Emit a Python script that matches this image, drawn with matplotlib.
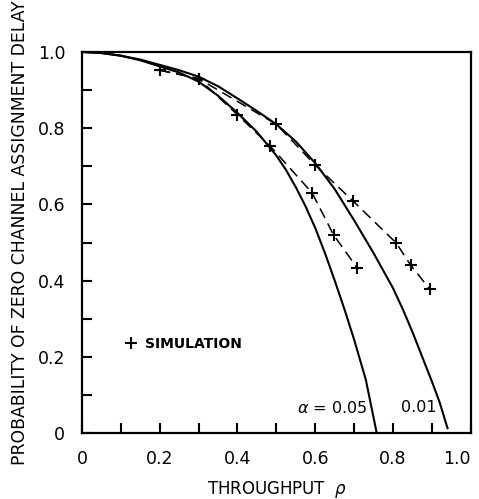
import matplotlib
matplotlib.use("Agg")
import matplotlib.pyplot as plt
import matplotlib.transforms as mtransforms
from matplotlib.lines import Line2D
from matplotlib.ticker import MultipleLocator

# analytic curves
rho_05 = [0, 0.05, 0.1, 0.15, 0.2, 0.25, 0.3, 0.35, 0.4, 0.45, 0.5, 0.525, 0.55, 0.575,
          0.6, 0.625, 0.65, 0.675, 0.7, 0.73, 0.758]
p_05 = [1.0, 0.997, 0.99, 0.978, 0.962, 0.946, 0.922, 0.885, 0.84, 0.79, 0.728, 0.69, 0.645, 0.595,
        0.538, 0.472, 0.40, 0.325, 0.245, 0.14, 0.0]

rho_01 = [0, 0.05, 0.1, 0.15, 0.2, 0.25, 0.3, 0.35, 0.4, 0.45, 0.5, 0.55, 0.6, 0.65, 0.7,
          0.75, 0.8, 0.825, 0.85, 0.875, 0.9, 0.92, 0.94]
p_01 = [1.0, 0.997, 0.99, 0.98, 0.966, 0.952, 0.935, 0.91, 0.878, 0.845, 0.81, 0.765, 0.708, 0.64, 0.558,
        0.472, 0.38, 0.325, 0.265, 0.2, 0.135, 0.08, 0.013]

# simulation points
sim_rho_05 = [0.2, 0.3, 0.4, 0.484, 0.592, 0.647, 0.708]
sim_p_05 = [0.952, 0.93, 0.835, 0.753, 0.63, 0.52, 0.433]

sim_rho_01 = [0.2, 0.3, 0.5, 0.6, 0.697, 0.808, 0.845, 0.894]
sim_p_01 = [0.952, 0.93, 0.81, 0.703, 0.609, 0.499, 0.441, 0.378]

ticks = [0, 0.2, 0.4, 0.6, 0.8, 1.0]
tick_labels = ["0", "0.2", "0.4", "0.6", "0.8", "1.0"]

fig = plt.figure(figsize=(4.79, 4.99), dpi=100)
ax = fig.add_axes([0.171, 0.132, 0.812, 0.764])

ax.plot(rho_05, p_05, color="black", lw=1.5)
ax.plot(rho_01, p_01, color="black", lw=1.5)
ax.plot(sim_rho_05, sim_p_05, color="black", lw=1.1, ls=(0, (7, 4)),
        marker="+", ms=8, mew=1.5)
ax.plot(sim_rho_01, sim_p_01, color="black", lw=1.1, ls=(0, (7, 4)),
        marker="+", ms=8, mew=1.5)

ax.text(0.553, 0.066, r"$\alpha$ = 0.05", fontsize=11.5, ha="left", va="center")
ax.text(0.82, 0.066, "0.01", fontsize=11.5, ha="left", va="center")

proxy = Line2D([], [], color="black", ls="none", marker="+", ms=8, mew=1.5)
ax.legend([proxy], ["SIMULATION"], loc="center left", bbox_to_anchor=(0.08, 0.233),
          frameon=False, handlelength=0.8, handletextpad=0.6,
          prop={"size": 10, "weight": "bold"})

ax.set_xlim(0, 1.0)
ax.set_ylim(0, 1.0)
ax.set_xticks(ticks)
ax.set_xticklabels(tick_labels)
ax.set_yticks(ticks)
ax.set_yticklabels(tick_labels)
ax.xaxis.set_minor_locator(MultipleLocator(0.1))
ax.yaxis.set_minor_locator(MultipleLocator(0.1))
ax.tick_params(which="both", direction="in", length=7, width=1.5, labelsize=12.5)
ax.tick_params(axis="both", which="major", pad=12)

# pull the last x label in so it stays on the page
last = ax.get_xticklabels()[-1]
last.set_transform(last.get_transform() + mtransforms.ScaledTranslation(-10 / 72, 0, fig.dpi_scale_trans))

for s in ax.spines.values():
    s.set_linewidth(1.6)

ax.set_xlabel(r"THROUGHPUT  $\rho$", fontsize=12, labelpad=8)
ax.set_ylabel("PROBABILITY OF ZERO CHANNEL ASSIGNMENT DELAY", fontsize=12.4)
ax.yaxis.set_label_coords(-0.135, 0.525)

fig.savefig("out.png", dpi=100)
